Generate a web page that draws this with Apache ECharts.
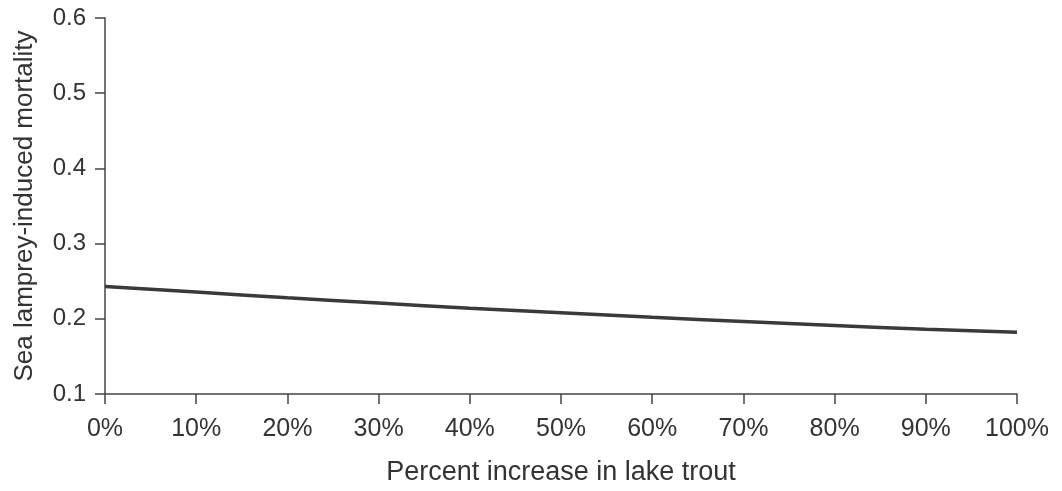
<!DOCTYPE html>
<html>
<head>
<meta charset="utf-8">
<script src="https://cdn.jsdelivr.net/npm/echarts@6/dist/echarts.min.js"></script>
<style>
html,body{margin:0;padding:0;background:#fff;}
#chart{width:1062px;height:491px;}
</style>
</head>
<body>
<div id="chart"></div>
<script>
// percent increase in lake trout (x) and sea lamprey-induced mortality (y)
var pctIncrease = [0, 10, 20, 30, 40, 50, 60, 70, 80, 90, 100];
var mortality = [0.243, 0.2355, 0.228, 0.221, 0.214, 0.208, 0.202, 0.1965, 0.191, 0.186, 0.182];

var textColor = "#333";
var axisColor = "#444";
var font = "Liberation Sans, Arial, sans-serif";

var lineData = [];
for (var i = 0; i < pctIncrease.length; i++) {
	lineData.push([pctIncrease[i], mortality[i]]);
}

var chart = echarts.init(document.getElementById("chart"));
chart.setOption({
	animation: false,
	grid: {left: 105, right: 45, top: 18, bottom: 96, containLabel: false},
	xAxis: {
		type: "value", min: 0, max: 100, interval: 10,
		name: "Percent increase in lake trout",
		nameLocation: "middle", nameGap: 65,
		nameTextStyle: {color: textColor, fontSize: 27, fontFamily: font},
		axisLine: {lineStyle: {color: axisColor, width: 1.5}},
		axisTick: {length: 10, lineStyle: {color: axisColor, width: 1.5}},
		axisLabel: {formatter: "{value}%", color: textColor, fontSize: 25, fontFamily: font, margin: 23},
		splitLine: {show: false}
	},
	yAxis: {
		type: "value", min: 0.1, max: 0.6, interval: 0.1,
		name: "Sea lamprey-induced mortality",
		nameLocation: "middle", nameGap: 67,
		nameTextStyle: {color: textColor, fontSize: 26, fontFamily: font},
		axisLine: {show: true, lineStyle: {color: axisColor, width: 1.5}},
		axisTick: {show: true, length: 10, lineStyle: {color: axisColor, width: 1.5}},
		axisLabel: {color: textColor, fontSize: 24, fontFamily: font, margin: 19,
			formatter: function(v){ return v.toFixed(1); }},
		splitLine: {show: false}
	},
	series: [{
		type: "line", data: lineData, smooth: true, symbol: "none",
		lineStyle: {color: "#3a3a3a", width: 3.5}
	}]
});
</script>
</body>
</html>
